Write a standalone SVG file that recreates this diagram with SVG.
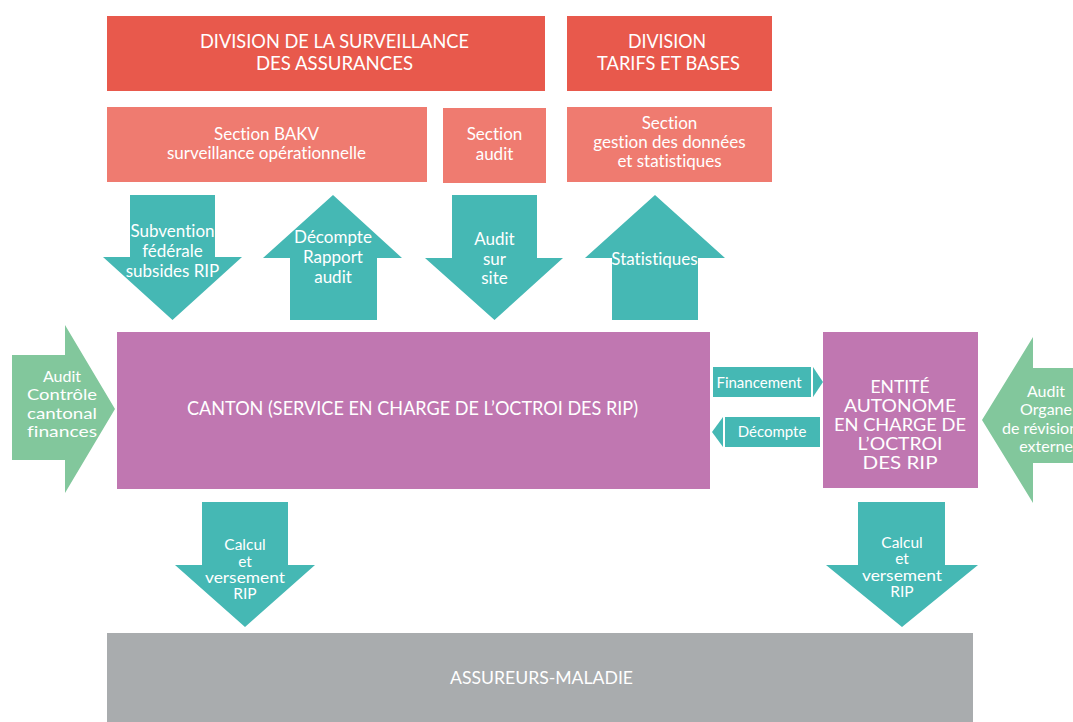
<svg xmlns="http://www.w3.org/2000/svg" width="1073" height="722" viewBox="0 0 1073 722">
<style>
text{font-family:Lato,"Liberation Sans",sans-serif;fill:#ffffff;text-anchor:middle;font-variant-ligatures:none;font-feature-settings:"liga" 0}
.div{fill:#e8594c}
.sec{fill:#ef7b70}
.teal{fill:#45b8b4}
.green{fill:#82c79c}
.purple{fill:#c077b1}
.gray{fill:#a9acae}
.t19{font-size:19px}
.t18{font-size:17.5px}
.t17{font-size:17px}
.tg{font-size:16px}
.t16{font-size:15.5px}
.t15{font-size:15px}
</style>
<rect width="1073" height="722" fill="#ffffff"/>
<g id="div-surveillance">
<rect class="div" x="107" y="16" width="438" height="75"/>
<text class="t19" x="334.5" y="48" textLength="269" lengthAdjust="spacingAndGlyphs">DIVISION DE LA SURVEILLANCE</text>
<text class="t19" x="334.5" y="70" textLength="157" lengthAdjust="spacingAndGlyphs">DES ASSURANCES</text>
</g>
<g id="div-tarifs">
<rect class="div" x="567" y="16" width="205" height="75"/>
<text class="t19" x="667" y="48" textLength="78" lengthAdjust="spacingAndGlyphs">DIVISION</text>
<text class="t19" x="668.5" y="70" textLength="143" lengthAdjust="spacingAndGlyphs">TARIFS ET BASES</text>
</g>
<g id="sec-bakv">
<rect class="sec" x="107" y="107" width="320" height="75"/>
<text class="t17" x="266.5" y="140">Section BAKV</text>
<text class="t17" x="266.5" y="159">surveillance opérationnelle</text>
</g>
<g id="sec-audit">
<rect class="sec" x="443" y="108" width="103" height="75"/>
<text class="t17" x="494.5" y="140">Section</text>
<text class="t17" x="494.5" y="160">audit</text>
</g>
<g id="sec-gestion">
<rect class="sec" x="567" y="107" width="205" height="75"/>
<text class="t17" x="669.5" y="129">Section</text>
<text class="t17" x="669.5" y="148">gestion des données</text>
<text class="t17" x="669.5" y="167">et statistiques</text>
</g>
<g id="canton">
<rect class="purple" x="117" y="332" width="593" height="157"/>
<text class="t19" x="412.5" y="415" textLength="451" lengthAdjust="spacingAndGlyphs">CANTON (SERVICE EN CHARGE DE L’OCTROI DES RIP)</text>
</g>
<g id="entite">
<rect class="purple" x="823" y="332" width="155" height="156"/>
<text class="t18" x="900" y="393">ENTITÉ</text>
<text class="t18" x="900" y="412" textLength="112" lengthAdjust="spacingAndGlyphs">AUTONOME</text>
<text class="t18" x="900" y="431" textLength="132" lengthAdjust="spacingAndGlyphs">EN CHARGE DE</text>
<text class="t18" x="900" y="450" textLength="85" lengthAdjust="spacingAndGlyphs">L’OCTROI</text>
<text class="t18" x="900" y="469" textLength="75" lengthAdjust="spacingAndGlyphs">DES RIP</text>
</g>
<g id="assureurs">
<rect class="gray" x="107" y="633" width="866" height="89"/>
<text class="t17" x="541.5" y="684" textLength="183" lengthAdjust="spacingAndGlyphs">ASSUREURS-MALADIE</text>
</g>
<g id="connectors">
<g id="arrow-subvention">
<polygon class="teal" points="130,195 215,195 215,257 242,257 172.5,320 103,257 130,257"/>
<text class="t17" x="172.5" y="237">Subvention</text>
<text class="t17" x="172.5" y="257">fédérale</text>
<text class="t17" x="172.5" y="277">subsides RIP</text>
</g>
<g id="arrow-decompte-rapport">
<polygon class="teal" points="333,195 402,258 377,258 377,320 290,320 290,258 263,258"/>
<text class="t17" x="333" y="243">Décompte</text>
<text class="t17" x="333" y="263">Rapport</text>
<text class="t17" x="333" y="283">audit</text>
</g>
<g id="arrow-audit-site">
<polygon class="teal" points="452,195 537,195 537,258 563,258 494.5,320 425,258 452,258"/>
<text class="t17" x="494.5" y="245">Audit</text>
<text class="t17" x="494.5" y="265">sur</text>
<text class="t17" x="494.5" y="284">site</text>
</g>
<g id="arrow-statistiques">
<polygon class="teal" points="655,195 725,258 698,258 698,320 612,320 612,258 585,258"/>
<text class="t17" x="654.5" y="265">Statistiques</text>
</g>
<g id="arrow-controle-cantonal">
<polygon class="green" points="12,355 65,355 65,325 115,409 65,493 65,460 12,460"/>
<text class="tg" x="62" y="382">Audit</text>
<text class="tg" x="62" y="400" textLength="70" lengthAdjust="spacingAndGlyphs">Contrôle</text>
<text class="tg" x="62" y="419" textLength="70" lengthAdjust="spacingAndGlyphs">cantonal</text>
<text class="tg" x="62" y="437" textLength="70" lengthAdjust="spacingAndGlyphs">finances</text>
</g>
<g id="arrow-organe-revision">
<polygon class="green" points="982,420 1033,337 1033,368 1073,368 1073,463 1033,463 1033,503"/>
<text class="tg" x="1046" y="397">Audit</text>
<text class="tg" x="1046" y="415">Organe</text>
<text class="tg" x="1040" y="434">de révision</text>
<text class="tg" x="1046" y="452">externe</text>
</g>
<g id="arrow-financement">
<polygon class="teal" points="713,367 811,367 811,397 713,397"/>
<polygon class="teal" points="813,367 823,382 813,397"/>
<text class="t15" x="759" y="388">Financement</text>
</g>
<g id="arrow-decompte-small">
<polygon class="teal" points="725,417 820,417 820,447 725,447"/>
<polygon class="teal" points="723,417 712,432 723,447"/>
<text class="t15" x="772" y="437">Décompte</text>
</g>
<g id="arrow-calcul-canton">
<polygon class="teal" points="202,502 288,502 288,565 315,565 245,627 175,565 202,565"/>
<text class="t16" x="245" y="550">Calcul</text>
<text class="t16" x="245" y="567">et</text>
<text class="t16" x="245" y="583" textLength="80" lengthAdjust="spacingAndGlyphs">versement</text>
<text class="t16" x="245" y="599">RIP</text>
</g>
<g id="arrow-calcul-entite">
<polygon class="teal" points="858,502 945,502 945,565 978,565 902,627 826,565 858,565"/>
<text class="t16" x="902" y="548">Calcul</text>
<text class="t16" x="902" y="564">et</text>
<text class="t16" x="902" y="581" textLength="80" lengthAdjust="spacingAndGlyphs">versement</text>
<text class="t16" x="902" y="597">RIP</text>
</g>
</g>
</svg>
